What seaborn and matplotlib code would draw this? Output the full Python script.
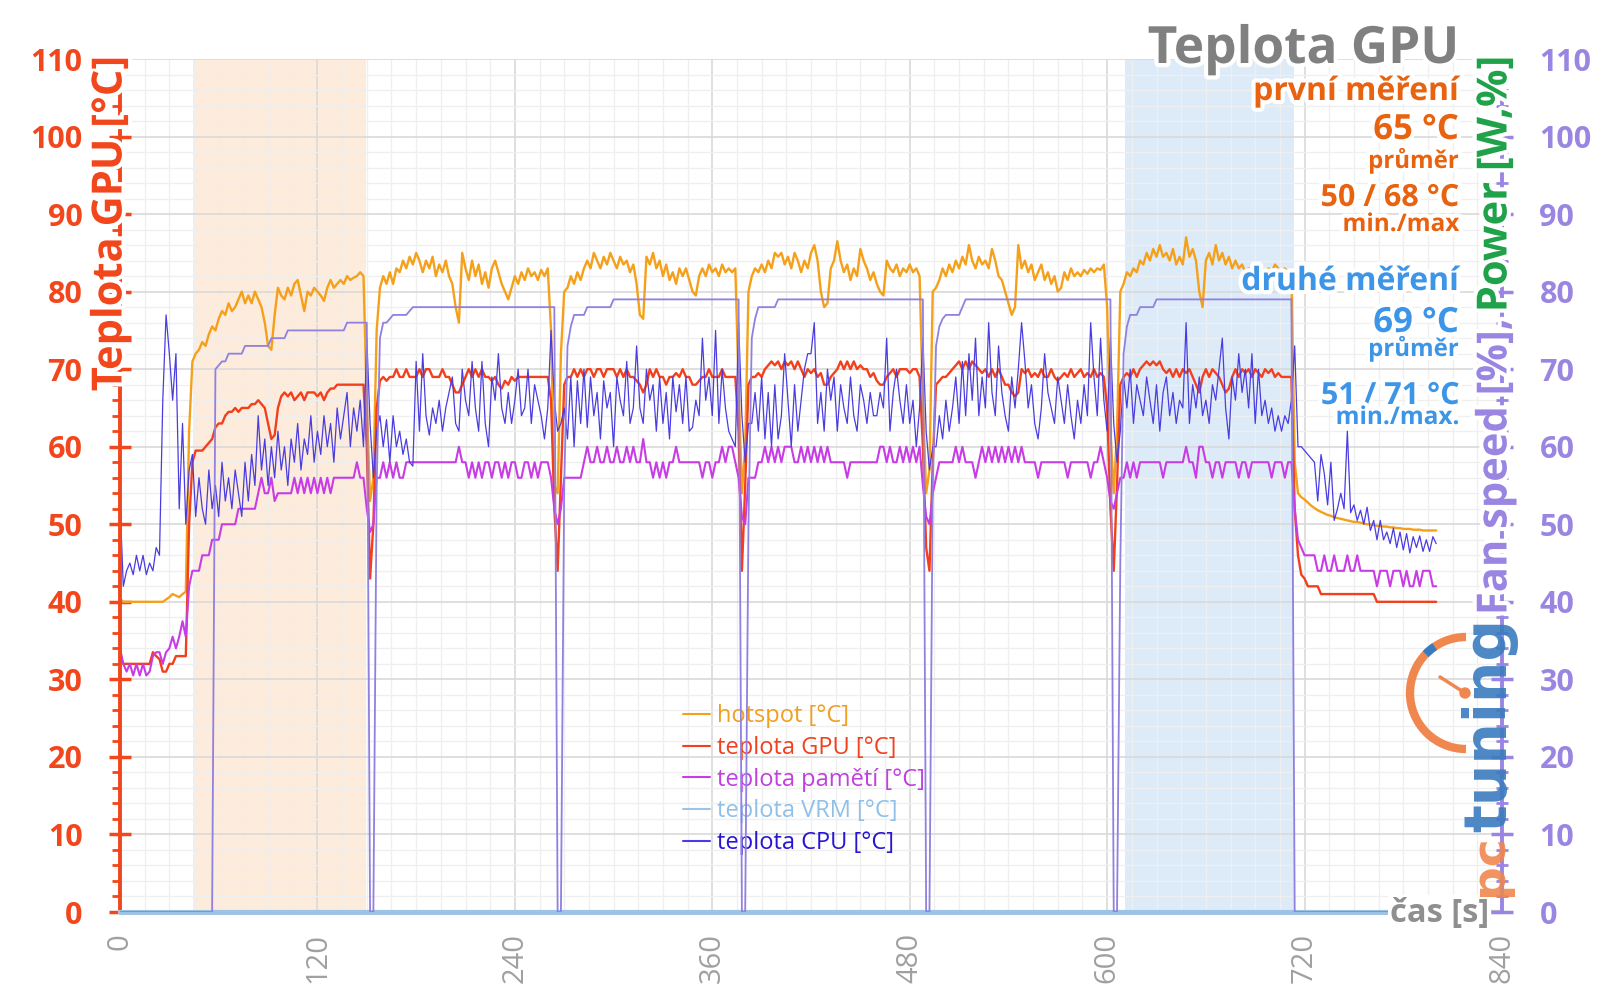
import numpy as np
import pandas as pd
import matplotlib
matplotlib.use("Agg")
import matplotlib.pyplot as plt
import seaborn as sns
import matplotlib.patheffects as pe
from matplotlib.patches import Arc, Circle
from matplotlib.lines import Line2D
from matplotlib.ticker import MultipleLocator

# ---------------- data (sampled every 2 s, 0 .. 800 s) ----------------
t = np.arange(0, 801, 2)

hotspot = [
    40.4, 40, 40, 40, 40, 40, 40, 40, 40, 40,
    40, 40, 40, 40, 40.3, 40.6, 41, 40.8, 40.6, 41,
    41.3, 62, 71, 72, 72.5, 73.5, 73, 74.5, 75.5, 75,
    76.5, 77.5, 77, 78.5, 77.5, 78, 79, 80, 78.5, 79.5,
    78.5, 80, 79, 78, 76, 73, 72.5, 77, 80.5, 79.5,
    79, 80.5, 79.5, 81, 81.5, 79.5, 77.5, 80, 79.5, 80.5,
    80, 79.5, 78.8, 80.5, 81.5, 80.5, 81, 81.5, 81, 82,
    81.5, 81.8, 82, 82.5, 82, 66, 53, 56, 75, 80.5,
    82, 81, 82.5, 81, 83, 82.5, 84, 83, 84.5, 83.5,
    85, 84, 82.5, 84, 83, 84.5, 82, 83.5, 82.5, 84,
    82, 81, 78, 76, 85, 83, 81.5, 84, 82, 83.5,
    81, 82.5, 80.5, 83, 84, 82.5, 81, 80, 79, 80.5,
    82, 81, 82.5, 81.5, 83, 82, 82.5, 81.5, 82.8, 82,
    83, 75, 55, 54, 72, 80, 80.5, 82, 81, 82.5,
    81.5, 83, 84, 83, 85, 84, 83, 84.5, 83.5, 85,
    84, 83, 84.5, 83.5, 84, 82.5, 83.5, 81, 77, 76.5,
    84.5, 83.5, 85, 83, 84, 82, 83.5, 81.5, 82.5, 81,
    83, 82, 83, 81.5, 80, 79.5, 82, 83, 82, 83.5,
    82.5, 83, 82, 83.5, 82.5, 83, 82.5, 83, 68, 54,
    60, 80, 82, 83, 82.5, 83.5, 82.5, 84, 83, 85,
    84.5, 85, 83.5, 84.5, 83, 85, 84, 82.5, 84, 83,
    85, 86, 84, 80, 78, 78.5, 83, 84, 86.5, 84,
    82.5, 83.5, 81.5, 83, 82, 85.5, 84, 83, 81.5, 82.5,
    81, 80, 79.5, 84, 83, 82.5, 83.5, 82, 83, 82.5,
    83.5, 82.5, 83, 82, 66, 54, 57, 80, 80.5, 81.5,
    83, 82, 83.5, 82.5, 84, 83, 84.5, 83.5, 86, 84,
    83, 84.5, 83.5, 84, 83, 85.5, 84, 82, 81.5, 80,
    78.5, 77, 78, 86, 83, 84, 82.5, 83.5, 81.5, 82.5,
    83.5, 81.5, 82.5, 81, 82, 80, 80.5, 82.5, 81.5, 83,
    82, 82.5, 82, 82.8, 82.3, 83, 82.5, 83, 82.8, 83.5,
    78, 62, 54, 62, 80, 81, 82.5, 82, 83, 82.5,
    84, 83.5, 85, 84, 85.5, 84.5, 86, 84.5, 85, 84,
    85.5, 83.5, 84.5, 83.5, 87, 84.5, 85.5, 84, 80, 78,
    84, 85, 83.5, 86, 84, 85, 83.5, 84.5, 83, 84,
    83, 83.5, 82.5, 83, 82.5, 83.5, 82.5, 83, 82.5, 83,
    82.5, 83.5, 83, 82.5, 83, 82.5, 82, 58, 54, 53.5,
    53.2, 52.8, 52.4, 52.1, 51.8, 51.6, 51.4, 51.2, 51.1, 50.9,
    50.8, 50.7, 50.6, 50.5, 50.4, 50.3, 50.3, 50.2, 50.1, 50,
    50, 49.9, 49.8, 49.8, 49.7, 49.7, 49.6, 49.6, 49.5, 49.5,
    49.4, 49.4, 49.4, 49.3, 49.3, 49.3, 49.2, 49.2, 49.2, 49.2,
    49.2,
]

gpu = [
    33, 32, 32, 32, 32, 32, 32, 32, 32, 32,
    33.5, 33, 32.6, 31, 31, 32, 32, 33, 33, 33,
    33, 50, 58, 59.5, 59.5, 59.5, 60, 60.5, 61, 62.5,
    63, 63, 64, 64.5, 64.5, 65, 64.5, 65, 65, 65,
    65.5, 65.5, 66, 65.5, 65, 63, 61, 61.5, 65, 66.5,
    67, 66.5, 67, 66, 66.5, 67, 66, 67, 67, 67,
    66.5, 67, 66, 67, 67.5, 67.5, 68, 68, 68, 68,
    68, 68, 68, 68, 68, 60, 43, 50, 65, 68.5,
    69, 68.5, 69, 69, 70, 69, 69, 70, 69, 69,
    69, 70, 69, 70, 70, 69, 69, 69, 70, 69,
    69, 68, 67, 67, 68, 69, 70, 69, 70, 69,
    70, 69, 69, 68.5, 69, 68, 67.5, 68.5, 68, 69,
    68.5, 69, 69, 69, 69, 69, 69, 69, 69, 69,
    69, 66, 52, 44, 56, 68, 69, 69, 70, 69,
    70, 69, 70, 70, 69, 70, 70, 69, 70, 70,
    70, 69, 70, 69, 70, 69, 69, 68.5, 68, 67,
    68, 70, 69, 70, 69, 69, 68, 69, 69, 69.5,
    69, 70, 69, 69, 68, 68, 68.5, 69, 69, 70,
    69, 69, 69, 70, 69, 69, 69, 69, 62, 44,
    55, 68, 69, 69, 69.5, 69, 70, 70.5, 71, 70.5,
    71, 70, 71, 70.5, 71, 70, 71, 70, 69, 70,
    69.5, 70, 69, 69.5, 68, 68, 69, 69.5, 70, 71,
    70, 71, 70, 71, 70, 70.5, 70, 70, 69, 69.5,
    68.5, 68, 68, 69, 69.5, 70, 69, 70, 70, 70,
    69.5, 70, 70, 69, 60, 47, 44, 58, 68, 68.5,
    69, 69, 69.5, 70, 70.5, 71, 70, 71, 70, 71,
    70.5, 70, 69.5, 70, 69, 70, 69, 70, 69, 68,
    68, 67, 66.5, 67, 70, 69.5, 70, 69, 69.5, 69,
    70, 69, 69, 70, 69, 68.5, 69, 69.5, 69, 70,
    69, 69.5, 70, 69, 69.5, 69, 70, 69, 69.5, 69,
    65, 52, 44, 55, 68, 69, 69.5, 69, 70, 69,
    70, 70.5, 71, 70.5, 71, 70.5, 71, 70, 69.5, 70,
    69, 70, 69, 70, 69.5, 70, 69, 68, 67, 69,
    70, 69, 70, 69.5, 69, 68, 67, 67.5, 69, 70,
    69, 70, 69.5, 70, 69, 70, 69.5, 69, 70, 69.5,
    70, 69, 69.5, 69, 69, 69, 69, 52, 46, 43.5,
    43, 42, 42, 42, 42, 41, 41, 41, 41, 41,
    41, 41, 41, 41, 41, 41, 41, 41, 41, 41,
    41, 41, 40, 40, 40, 40, 40, 40, 40, 40,
    40, 40, 40, 40, 40, 40, 40, 40, 40, 40,
    40,
]

memory = [
    34, 32, 31, 32, 30.5, 32, 30.5, 32, 30.5, 31,
    33, 33.5, 33.5, 32, 33.5, 34, 35.5, 34, 35.5, 37.5,
    35.5, 42, 44, 44, 44, 46, 46, 46, 48, 48,
    48, 50, 50, 50, 50, 50, 52, 52, 52, 52,
    52, 52, 54, 56, 54, 54, 56, 53, 54, 54,
    54, 54, 54, 56, 54, 56, 54, 56, 54, 56,
    54, 56, 54, 56, 54, 56, 56, 56, 56, 56,
    56, 56, 58, 56, 56, 52, 49, 50, 56, 56,
    58, 56, 58, 56, 58, 56, 56, 58, 58, 58,
    58, 58, 58, 58, 58, 58, 58, 58, 58, 58,
    58, 58, 58, 60, 58, 58, 56, 58, 56, 58,
    56, 58, 58, 56, 58, 58, 56, 58, 56, 58,
    58, 56, 56, 58, 58, 56, 58, 56, 58, 58,
    58, 56, 52, 50, 52, 56, 56, 56, 56, 56,
    56, 58, 60, 58, 58, 60, 58, 58, 60, 58,
    58, 60, 58, 58, 60, 58, 60, 58, 58, 61,
    58, 58, 56, 58, 56, 58, 56, 58, 58, 60,
    58, 58, 58, 58, 58, 58, 58, 56, 58, 58,
    56, 58, 58, 60, 58, 60, 60, 58, 56, 51,
    50, 56, 56, 56, 58, 58, 60, 58, 60, 58,
    60, 58, 60, 60, 60, 58, 58, 60, 58, 60,
    58, 60, 58, 60, 58, 60, 58, 58, 58, 58,
    58, 56, 58, 58, 58, 58, 58, 58, 58, 58,
    58, 60, 60, 58, 60, 58, 58, 60, 58, 60,
    58, 60, 58, 60, 55, 51, 50, 54, 56, 58,
    58, 58, 58, 58, 60, 58, 60, 58, 58, 58,
    56, 58, 60, 58, 60, 58, 60, 58, 60, 58,
    60, 58, 60, 58, 60, 58, 58, 58, 58, 56,
    58, 58, 58, 58, 58, 58, 58, 58, 56, 58,
    58, 58, 58, 58, 58, 56, 58, 58, 60, 58,
    56, 53, 52, 54, 56, 56, 58, 56, 58, 56,
    58, 58, 58, 58, 58, 58, 58, 56, 58, 58,
    58, 58, 58, 58, 60, 58, 58, 56, 60, 60,
    58, 58, 56, 58, 58, 56, 58, 58, 58, 58,
    56, 58, 58, 56, 58, 58, 58, 58, 58, 58,
    56, 58, 58, 58, 56, 58, 58, 52, 48, 47,
    46, 46, 46, 46, 44, 44, 46, 44, 44, 46,
    44, 44, 44, 46, 44, 44, 46, 44, 44, 44,
    44, 44, 42, 44, 44, 44, 42, 44, 44, 44,
    42, 44, 42, 42, 44, 42, 44, 44, 44, 42,
    42,
]

cpu = [
    53, 42, 44, 45, 43.5, 46, 44, 46, 43.5, 45,
    44, 47, 46, 66, 77, 72, 66, 72, 52, 63,
    50, 57, 59, 51, 56, 52, 50, 57, 52, 55,
    51, 58, 53, 56, 52, 57, 54, 51, 58, 53,
    59, 55, 64, 57, 61, 55, 60, 56, 62, 57,
    60, 55, 61, 58, 63, 57, 61, 59, 64, 58,
    62, 59, 64, 60, 63, 58, 65, 61, 64, 67,
    60, 65, 62, 66, 60, 74, 63, 56, 62, 64,
    60, 63.5, 58, 64, 60, 62, 59, 61, 58, 57.5,
    71, 62, 72, 64, 61.5, 65, 63, 66, 62, 65,
    67, 69, 63, 62, 70, 66, 64, 71, 65, 62,
    71, 63, 60, 69, 66, 72, 65, 63, 67, 63,
    66, 70, 64, 65, 70, 63, 68, 66, 64, 61,
    65, 75, 66, 62, 63, 65, 61, 69, 60, 68.5,
    63, 70, 62.5, 69, 64, 67, 61, 68.5, 65, 67,
    60, 69, 66, 64, 71, 63, 65, 73, 65, 63,
    70, 66, 68, 62, 69, 63, 67, 61, 69, 64.5,
    68, 63, 69, 62, 62.5, 66, 64, 74, 66, 69,
    64, 75, 63, 70, 65, 62, 61, 60, 76, 64,
    58, 63, 63, 67, 62, 69, 61, 67, 60, 68,
    61, 64, 72, 66, 60, 68, 62, 66, 70, 72,
    72, 76, 63, 67, 62, 70, 66, 69, 62, 68,
    65, 63, 69, 64, 62, 68, 66, 63, 67, 64,
    64, 67, 65, 74, 62, 67, 70, 66, 63, 68,
    63, 66, 60, 65, 74, 62, 57, 60, 60, 64,
    61, 66, 62, 65, 69, 63, 71, 64, 72, 66,
    74, 64, 69, 65, 76, 67, 64, 73, 67, 64,
    62, 69, 65, 70, 76, 71, 65, 68, 63, 61,
    65, 72, 67, 65, 63, 69, 66, 63, 68, 64,
    61, 66, 63, 68, 64, 76, 69, 64, 74, 66,
    62, 74, 63, 58, 62, 69, 65, 70, 63, 68,
    66, 64, 69, 66, 63, 68, 62, 67, 69, 64,
    67, 63, 66, 65, 76, 63, 68, 65, 69, 64,
    66, 63, 68, 66, 70, 74, 65, 61, 69, 66,
    72, 67, 70, 65, 72, 63, 70, 64, 66, 63,
    65, 62, 64, 62, 64, 63, 66, 73, 60, 60,
    59.5, 59, 58.5, 58, 53, 59, 56.5, 52.5, 58, 50.5,
    52, 54, 52, 62, 51.5, 52.5, 50.5, 51.8, 50, 52.2,
    49.2, 50.5, 48, 50.5, 48, 49, 47.5, 49.5, 47, 49,
    46.7, 48.8, 46.3, 48.4, 47, 48.5, 46.5, 48, 46.5, 48.4,
    47.5,
]

fan_speed = [
    0, 0, 0, 0, 0, 0, 0, 0, 0, 0,
    0, 0, 0, 0, 0, 0, 0, 0, 0, 0,
    0, 0, 0, 0, 0, 0, 0, 0, 0, 70,
    70.5, 71, 71, 72, 72, 72, 72, 72, 73, 73,
    73, 73, 73, 73, 73, 73, 74, 74, 74, 74,
    74, 75, 75, 75, 75, 75, 75, 75, 75, 75,
    75, 75, 75, 75, 75, 75, 75, 75, 75, 76,
    76, 76, 76, 76, 76, 76, 0, 0, 55, 74,
    76, 76, 76.5, 77, 77, 77, 77, 77, 77.5, 78,
    78, 78, 78, 78, 78, 78, 78, 78, 78, 78,
    78, 78, 78, 78, 78, 78, 78, 78, 78, 78,
    78, 78, 78, 78, 78, 78, 78, 78, 78, 78,
    78, 78, 78, 78, 78, 78, 78, 78, 78, 78,
    78, 78, 78, 0, 0, 55, 73, 75.5, 77, 77,
    77, 77, 78, 78, 78, 78, 78, 78, 78, 78,
    79, 79, 79, 79, 79, 79, 79, 79, 79, 79,
    79, 79, 79, 79, 79, 79, 79, 79, 79, 79,
    79, 79, 79, 79, 79, 79, 79, 79, 79, 79,
    79, 79, 79, 79, 79, 79, 79, 79, 79, 0,
    0, 50, 74, 76.5, 78, 78, 78, 78, 78, 78,
    79, 79, 79, 79, 79, 79, 79, 79, 79, 79,
    79, 79, 79, 79, 79, 79, 79, 79, 79, 79,
    79, 79, 79, 79, 79, 79, 79, 79, 79, 79,
    79, 79, 79, 79, 79, 79, 79, 79, 79, 79,
    79, 79, 79, 79, 79, 0, 0, 55, 73, 75.5,
    76.5, 77, 77, 77, 77, 77, 78, 79, 79, 79,
    79, 79, 79, 79, 79, 79, 79, 79, 79, 79,
    79, 79, 79, 79, 79, 79, 79, 79, 79, 79,
    79, 79, 79, 79, 79, 79, 79, 79, 79, 79,
    79, 79, 79, 79, 79, 79, 79, 79, 79, 79,
    79, 79, 0, 0, 45, 72, 75.5, 77, 77, 77,
    78, 78, 78, 78, 78, 79, 79, 79, 79, 79,
    79, 79, 79, 79, 79, 79, 79, 79, 79, 79,
    79, 79, 79, 79, 79, 79, 79, 79, 79, 79,
    79, 79, 79, 79, 79, 79, 79, 79, 79, 79,
    79, 79, 79, 79, 79, 79, 79, 0, 0, 0,
    0, 0, 0, 0, 0, 0, 0, 0, 0, 0,
    0, 0, 0, 0, 0, 0, 0, 0, 0, 0,
    0, 0, 0, 0, 0, 0, 0, 0, 0, 0,
    0, 0, 0, 0, 0, 0, 0, 0, 0, 0,
    0,
]

vrm_time = [0, 800]
vrm = [0, 0]

x_ticks = [0, 120, 240, 360, 480, 600, 720, 840]
y_ticks = [0, 10, 20, 30, 40, 50, 60, 70, 80, 90, 100, 110]
legend_labels = ["hotspot [°C]", "teplota GPU [°C]", "teplota pamětí [°C]",
                 "teplota VRM [°C]", "teplota CPU [°C]"]
first_run = ["první měření", "65 °C", "průměr", "50 / 68 °C", "min./max"]
second_run = ["druhé měření", "69 °C", "průměr", "51 / 71 °C", "min./max."]

for name, arr in [("hotspot", hotspot), ("gpu", gpu), ("memory", memory),
                  ("cpu", cpu), ("fan", fan_speed)]:
    assert len(arr) == len(t), (name, len(arr))

df = pd.DataFrame({"t": t, "hotspot": hotspot, "gpu": gpu, "memory": memory,
                   "cpu": cpu, "fan": fan_speed})

# ---------------- style ----------------
sns.set_theme(style="white")
plt.rcParams["font.family"] = ["Open Sans", "DejaVu Sans"]

RED = "#F2461C"
LAV = "#9A86E2"
C_HOT = "#F5A01A"
C_GPU = "#F2401D"
C_MEM = "#C83CE6"
C_VRM = "#9DC3E6"
C_CPU = "#4A3CE0"
C_FAN = "#9080E0"
ORG = "#E8620F"
BLU = "#3D95E8"
GRAY = "#808080"

W, H = 1600, 1008
fig = plt.figure(figsize=(16, 10.08), dpi=100)
L, R, B, T = 120, 1502, 912, 59
ax = fig.add_axes([L / W, 1 - B / H, (R - L) / W, (B - T) / H])

# shaded measurement windows
ax.axvspan(44.4, 149.4, color="#FDEBDC", lw=0, zorder=0)
ax.axvspan(610.7, 713.8, color="#DDEBF9", lw=0, zorder=0)

sns.lineplot(data=df, x="t", y="hotspot", ax=ax, color=C_HOT, lw=1.7, zorder=2)
sns.lineplot(data=df, x="t", y="gpu", ax=ax, color=C_GPU, lw=1.7, zorder=2.1)
sns.lineplot(data=df, x="t", y="memory", ax=ax, color=C_MEM, lw=1.5, zorder=2.2)
sns.lineplot(x=vrm_time, y=vrm, ax=ax, color=C_VRM, lw=3.6, zorder=3, clip_on=False)
sns.lineplot(data=df, x="t", y="cpu", ax=ax, color=C_CPU, lw=0.9, zorder=2.3)

ax2 = ax.twinx()
sns.lineplot(data=df, x="t", y="fan", ax=ax2, color=C_FAN, lw=1.3)

for a in (ax, ax2):
    a.set_xlim(0, 840)
    a.set_ylim(0, 110)
    a.set_xlabel("")
    a.set_ylabel("")

ax.set_xticks(x_ticks)
ax.xaxis.set_minor_locator(MultipleLocator(15))
ax.set_yticks(y_ticks)
ax.yaxis.set_minor_locator(MultipleLocator(2))
ax.set_axisbelow(True)
ax.grid(which="major", color="#D9D9D9", lw=1.2)
ax.grid(which="minor", color="#EFEFEF", lw=0.9)

ax.tick_params(axis="x", which="major", direction="out", length=6, width=3,
               color="#BFBFBF", labelsize=21, labelcolor="#A0A0A0",
               labelrotation=90, pad=9)
ax.tick_params(axis="x", which="minor", length=0)
ax.tick_params(axis="y", which="major", direction="inout", length=16, width=2.5,
               color=RED, labelsize=22, labelcolor=RED, pad=19)
ax.tick_params(axis="y", which="minor", direction="out", length=6, width=2, color=RED)
for lbl in ax.get_yticklabels():
    lbl.set_fontweight("bold")

ax2.set_yticks(y_ticks)
ax2.yaxis.set_minor_locator(MultipleLocator(2))
ax2.tick_params(axis="y", which="major", direction="inout", length=16, width=2.5,
                color=LAV, labelsize=22, labelcolor=LAV, pad=19)
ax2.tick_params(axis="y", which="minor", direction="inout", length=9, width=2, color=LAV)
for lbl in ax2.get_yticklabels():
    lbl.set_fontweight("bold")

ax.spines["top"].set_visible(False)
ax.spines["right"].set_visible(False)
ax.spines["left"].set_color(RED)
ax.spines["left"].set_linewidth(2.8)
ax.spines["bottom"].set_color("#BFBFBF")
ax.spines["bottom"].set_linewidth(3)
for s in ("top", "left", "bottom"):
    ax2.spines[s].set_visible(False)
ax2.spines["right"].set_color(LAV)
ax2.spines["right"].set_linewidth(2.8)

# legend
handles = [Line2D([0], [0], color=c, lw=1.5) for c in (C_HOT, C_GPU, C_MEM, C_VRM, C_CPU)]
leg = ax.legend(handles, legend_labels, loc="upper left",
                bbox_to_anchor=((683 - L) / (R - L), (B - 704) / (B - T)),
                frameon=False, fontsize=17, handlelength=1.15, handletextpad=0.3,
                labelspacing=0.33, borderaxespad=0, borderpad=0)
for txt, c in zip(leg.get_texts(), ("#F0A020", "#F0401D", "#C040E0", "#90C0E8", "#2815D0")):
    txt.set_color(c)

# ---------------- overlay for free text (pixel coordinates) ----------------
ov = fig.add_axes([0, 0, 1, 1], zorder=10)
ov.set_xlim(0, W)
ov.set_ylim(H, 0)
ov.axis("off")
ov.patch.set_alpha(0)

halo = [pe.withStroke(linewidth=6, foreground="white")]
ov.text(1459, 63, "Teplota GPU", ha="right", va="baseline", fontsize=37,
        fontweight="bold", color=GRAY, path_effects=halo)

rows1 = [(100, 23), (139, 25), (168, 17.3), (206, 22), (231, 17.5)]
for (y, fs), s in zip(rows1, first_run):
    ov.text(1459, y, s, ha="right", va="baseline", fontsize=fs, fontweight="bold",
            color=ORG, path_effects=halo)
rows2 = [(290, 23), (332, 25), (356, 17.3), (404, 22), (424, 17.5)]
for (y, fs), s in zip(rows2, second_run):
    ov.text(1459, y, s, ha="right", va="baseline", fontsize=fs, fontweight="bold",
            color=BLU, path_effects=halo)

# axis titles
ov.text(111, 56, "Teplota GPU [°C]", rotation=90, ha="center", va="top", fontsize=30,
        fontweight="bold", color=RED, path_effects=halo)
t_pow = ov.text(1496, 56, "Power [W,%]", rotation=90, ha="center", va="top",
                fontsize=30, fontweight="bold", color="#1FA24A", path_effects=halo)
fig.canvas.draw()
bb = t_pow.get_window_extent()
y_bottom = ov.transData.inverted().transform((bb.x0, bb.y0))[1]
ov.text(1496, y_bottom + 6, "Fan speed [%],", rotation=90, ha="center", va="top",
        fontsize=30, fontweight="bold", color=LAV, path_effects=halo)

ov.text(1390, 922, "čas [s]", ha="left", va="baseline", fontsize=23.5, fontweight="bold",
        color="#8F8F8F", bbox=dict(facecolor="white", edgecolor="none", pad=1.5))

# pctuning logo
ov.add_patch(Arc((1466, 693), 112, 112, theta1=90, theta2=270, color="#F0874E", lw=6))
ov.add_patch(Arc((1466, 693), 112, 112, theta1=224, theta2=236, color="#3A7BBF", lw=6))
ov.plot([1440, 1465], [677, 693], color="#F0874E", lw=2.5, solid_capstyle="round")
ov.add_patch(Circle((1465, 693), 5, color="#F0874E"))
ov.text(1490, 832, "tuning", rotation=90, ha="center", va="bottom", fontsize=42,
        fontweight="bold", color="#3A7BBF", family="DejaVu Sans", alpha=0.9)
ov.text(1490, 834, "pc", rotation=90, ha="center", va="top", fontsize=34,
        fontweight="bold", color="#F0874E", family="DejaVu Sans", alpha=0.9)

fig.savefig("out.png", dpi=100)
